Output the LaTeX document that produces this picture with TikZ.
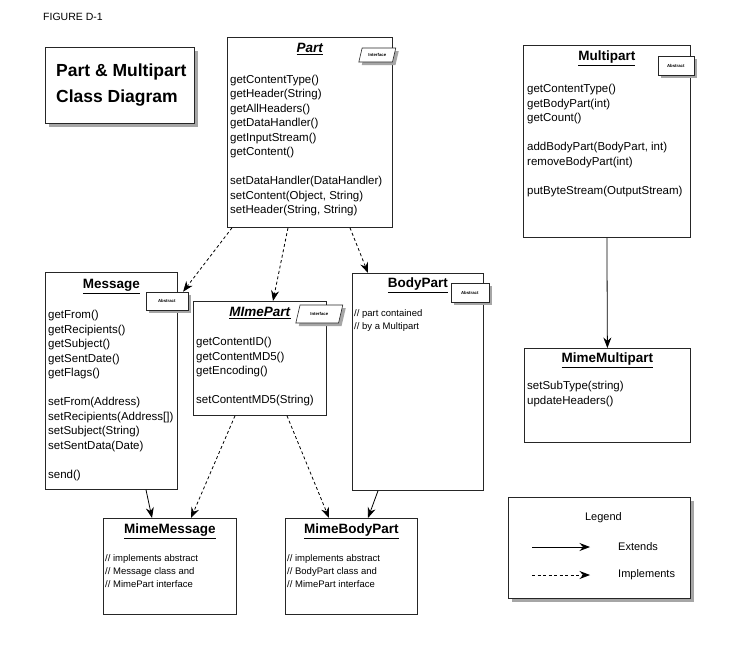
\documentclass[tikz,border=0pt]{standalone}
\usepackage{fontspec}
\setmainfont{Liberation Sans}
\usetikzlibrary{positioning,calc,shapes.geometric,shadows,arrows.meta}

\begin{document}
\begin{tikzpicture}[x=1pt,y=-1pt,
  cls/.style={draw=black!85,line width=0.8pt,fill=white,anchor=north west,inner sep=0pt},
  shadowed/.style={drop shadow={shadow xshift=4pt,shadow yshift=-4pt,fill=black!35,opacity=1}},
  ctitle/.style={font=\fontsize{13.5}{14}\selectfont\bfseries,inner sep=0pt},
  meth/.style={font=\fontsize{11.5}{14.5}\selectfont,align=left,inner sep=0pt,anchor=north west},
  note/.style={font=\fontsize{9.5}{13}\selectfont,align=left,inner sep=0pt,anchor=north west},
  tag/.style={draw=black!85,fill=white,line width=0.6pt,font=\fontsize{4.3}{5}\selectfont\bfseries,
              inner sep=0pt,drop shadow={shadow xshift=3pt,shadow yshift=-3pt,fill=black!35,opacity=1}},
  iface/.style={tag,trapezium,trapezium left angle=58,trapezium right angle=122,trapezium stretches=true},
  ext/.style={line width=0.8pt,-{Stealth[length=10.5pt,width=8pt,inset=3.5pt]}},
  impl/.style={ext,dash pattern=on 3pt off 2.5pt},
]
\useasboundingbox (0,0) rectangle (753,646);

% heading
\node[font=\fontsize{10.5}{12}\selectfont,anchor=west,inner sep=0pt] (fig) at (43,17) {FIGURE D-1};
\node[cls,shadowed,minimum width=149pt,minimum height=76pt] (titlebox) at (45,47) {};
\node[font=\fontsize{17.5}{26}\selectfont\bfseries,align=left,anchor=west,inner sep=0pt] (titletext)
  at ($(titlebox.west)+(11,0)$) {Part \& Multipart\\Class Diagram};

% Part
\node[cls,minimum width=165pt,minimum height=190pt] (part) at (227,37) {};
\node[ctitle,below=6pt of part.north] (parttitle) {\underline{\textit{Part}}};
\node[iface,minimum width=37pt,minimum height=14pt] (parttag) at ($(part.north east)+(-15.5,18)$) {Interface};
\node[meth] (partops) at ($(part.north west)+(3,37.5)$) {getContentType()\\getHeader(String)\\getAllHeaders()\\getDataHandler()\\getInputStream()\\getContent()\\[14.5pt]setDataHandler(DataHandler)\\setContent(Object, String)\\setHeader(String, String)};

% Multipart
\node[cls,minimum width=167pt,minimum height=192pt] (multipart) at (523,45) {};
\node[ctitle,below=6pt of multipart.north] (multititle) {\underline{Multipart}};
\node[tag,minimum width=36pt,minimum height=19pt] (multitag) at ($(multipart.north east)+(-15,20.5)$) {Abstract};
\node[meth] (multiops) at ($(multipart.north west)+(4,39)$) {getContentType()\\getBodyPart(int)\\getCount()\\[14.5pt]addBodyPart(BodyPart, int)\\removeBodyPart(int)\\[14.5pt]putByteStream(OutputStream)};

% Message
\node[cls,minimum width=132pt,minimum height=217pt] (message) at (45,272) {};
\node[ctitle,below=7pt of message.north] (msgtitle) {\underline{Message}};
\node[tag,minimum width=42pt,minimum height=18pt] (msgtag) at ($(message.north east)+(-11,29)$) {Abstract};
\node[meth] (msgops) at ($(message.north west)+(3,38)$) {getFrom()\\getRecipients()\\getSubject()\\getSentDate()\\getFlags()\\[14.5pt]setFrom(Address)\\setRecipients(Address[])\\setSubject(String)\\setSentData(Date)\\[14.5pt]send()};

% MimePart
\node[cls,minimum width=133pt,minimum height=114pt] (mimepart) at (193,301) {};
\node[ctitle,below=6pt of mimepart.north] (mimeparttitle) {\underline{\textit{MImePart}}};
\node[iface,minimum width=47pt,minimum height=18pt] (mimeparttag) at ($(mimepart.north east)+(-7.5,13)$) {Interface};
\node[meth] (mimepartops) at ($(mimepart.north west)+(3,36)$) {getContentID()\\getContentMD5()\\getEncoding()\\[14.5pt]setContentMD5(String)};

% BodyPart
\node[cls,minimum width=131pt,minimum height=217pt] (bodypart) at (352,273) {};
\node[ctitle,below=5pt of bodypart.north] (bodytitle) {\underline{BodyPart}};
\node[tag,minimum width=38pt,minimum height=19pt] (bodytag) at ($(bodypart.north east)+(-14,19.5)$) {Abstract};
\node[note] (bodynote) at ($(bodypart.north west)+(2,36.5)$) {// part contained\\// by a Multipart};

% MimeMessage
\node[cls,minimum width=133pt,minimum height=96pt] (mimemessage) at (103,518) {};
\node[ctitle,below=6pt of mimemessage.north] (mimemsgtitle) {\underline{MimeMessage}};
\node[note] (mimemsgnote) at ($(mimemessage.north west)+(2,36.5)$) {// implements abstract\\// Message class and\\// MimePart interface};

% MimeBodyPart
\node[cls,minimum width=132pt,minimum height=96pt] (mimebodypart) at (285,518) {};
\node[ctitle,below=6pt of mimebodypart.north] (mimebodytitle) {\underline{MimeBodyPart}};
\node[note] (mimebodynote) at ($(mimebodypart.north west)+(2,36.5)$) {// implements abstract\\// BodyPart class and\\// MimePart interface};

% MimeMultipart
\node[cls,minimum width=166pt,minimum height=94pt] (mimemultipart) at (524,348) {};
\node[ctitle,below=5pt of mimemultipart.north] (mimemultititle) {\underline{MimeMultipart}};
\node[meth] (mimemultiops) at ($(mimemultipart.north west)+(3,33)$) {setSubType(string)\\updateHeaders()};

% Legend
\node[cls,shadowed,minimum width=182pt,minimum height=101pt] (legend) at (508,497) {};
\node[font=\fontsize{11}{12}\selectfont,inner sep=0pt] (legendtitle) at ($(legend.north)+(4,21)$) {Legend};
\coordinate (extA) at (532,547);
\coordinate (extB) at (590,547);
\coordinate (implA) at (532,575);
\coordinate (implB) at (590,575);
\node[font=\fontsize{11}{12}\selectfont,anchor=west,inner sep=0pt] (extlabel) at (618,547) {Extends};
\node[font=\fontsize{11}{12}\selectfont,anchor=west,inner sep=0pt] (impllabel) at (618,575) {Implements};
\draw[ext] (extA) -- (extB);
\draw[impl] (implA) -- (implB);

% connectors
\draw[impl] ($(part.south west)+(5,0)$) -- ($(msgtag.north east)+(-5,0)$);
\draw[impl] ($(part.south west)+(61,0)$) -- ($(mimepart.north west)+(80,0)$);
\draw[impl] ($(part.south west)+(123,0)$) -- ($(bodypart.north west)+(16,0)$);
\draw[ext] (multipart.south) -- (mimemultipart.north);
\draw[ext] ($(message.south west)+(101,0)$) -- ($(mimemessage.north west)+(49,0)$);
\draw[impl] ($(mimepart.south west)+(42,0)$) -- ($(mimemessage.north west)+(88,0)$);
\draw[impl] ($(mimepart.south west)+(94,0)$) -- ($(mimebodypart.north west)+(44,0)$);
\draw[ext] ($(bodypart.south west)+(26,0)$) -- ($(mimebodypart.north west)+(83,0)$);
\end{tikzpicture}
\end{document}
